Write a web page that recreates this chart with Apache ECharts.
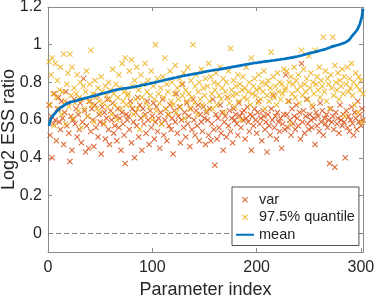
<!DOCTYPE html>
<html>
<head>
<meta charset="utf-8">
<script src="https://cdn.jsdelivr.net/npm/echarts@6/dist/echarts.min.js"></script>
<style>
html,body{margin:0;padding:0;background:#fff;}
#chart{width:374px;height:295px;}
</style>
</head>
<body>
<div id="chart"></div>
<script>
// ---- data ----
var seriesNames = ['var', '97.5% quantile', 'mean'];
var xTicks = [0, 100, 200, 300];
var yTicks = [0, 0.2, 0.4, 0.6, 0.8, 1, 1.2];

var varValues = [
0.68,0.52,0.62,0.40,0.58,0.74,0.60,0.49,0.66,0.72,
0.59,0.55,0.70,0.61,0.47,0.64,0.75,0.57,0.69,0.53,
0.38,0.62,0.44,0.60,0.71,0.58,0.66,0.51,0.63,0.55,
0.69,0.48,0.59,0.82,0.65,0.43,0.57,0.62,0.45,0.70,
0.54,0.66,0.60,0.46,0.68,0.56,0.73,0.51,0.63,0.59,
0.42,0.67,0.58,0.64,0.50,0.61,0.71,0.55,0.47,0.65,
0.60,0.69,0.53,0.57,0.62,0.49,0.66,0.56,0.61,0.44,
0.64,0.58,0.52,0.37,0.63,0.60,
0.62,0.55,0.70,0.48,0.66,0.59,0.40,0.64,0.57,0.72,
0.51,0.68,0.61,0.44,0.66,0.58,0.63,0.53,0.70,0.60,
0.47,0.65,0.56,0.62,0.69,0.50,0.59,0.67,0.54,0.61,
0.45,0.64,0.58,0.71,0.52,0.60,0.66,0.49,0.63,0.57,
0.68,0.55,0.61,0.42,0.65,0.59,0.74,0.53,0.62,0.67,
0.48,0.60,0.79,0.56,0.64,0.51,0.69,0.58,0.62,0.46,
0.66,0.55,0.71,0.60,0.52,0.65,0.57,0.68,0.49,0.63,
0.59,0.54,0.67,0.61,0.47,0.64,
0.60,0.52,0.66,0.49,0.58,0.71,0.55,0.36,0.63,0.50,
0.61,0.56,0.68,0.53,0.64,0.44,0.59,0.62,0.51,0.72,
0.57,0.65,0.54,0.61,0.48,0.66,0.60,0.63,0.58,0.52,
0.69,0.62,0.56,0.64,0.60,0.65,0.50,0.61,0.67,0.59,
0.54,0.63,0.44,0.62,0.57,0.66,0.60,0.53,0.64,0.70,
0.58,0.61,0.49,0.65,0.62,0.55,0.59,0.43,0.63,0.57,
0.52,0.66,0.60,0.73,0.56,0.62,0.50,0.64,0.59,0.54,
0.61,0.45,0.58,0.63,0.55,
0.84,0.63,0.56,0.70,0.60,0.52,0.66,0.58,0.62,0.55,
0.68,0.61,0.57,0.64,0.50,0.90,0.59,0.65,0.53,0.62,
0.71,0.58,0.55,0.63,0.60,0.56,0.67,0.61,0.47,0.64,
0.57,0.62,0.54,0.69,0.59,0.65,0.52,0.61,0.58,0.63,
0.56,0.60,0.37,0.66,0.59,0.62,0.55,0.35,0.64,0.58,
0.61,0.53,0.68,0.60,0.57,0.63,0.59,0.40,0.65,0.56,
0.62,0.54,0.60,0.67,0.58,0.52,0.64,0.61,0.55,0.70,
0.59,0.63,0.57,0.66,0.60
];

var quantileValues = [
0.91,0.68,0.84,0.93,0.74,0.57,0.90,0.72,0.81,0.66,
0.76,0.88,0.63,0.75,0.95,0.70,0.58,0.79,0.85,0.67,
0.95,0.73,0.88,0.61,0.77,0.69,0.74,0.84,0.65,0.72,
0.80,0.56,0.71,0.78,0.66,0.75,0.86,0.62,0.70,0.79,
0.97,0.68,0.74,0.59,0.81,0.72,0.66,0.77,0.70,0.64,
0.83,0.75,0.69,0.58,0.78,0.73,0.67,0.80,0.71,0.76,
0.63,0.87,0.74,0.68,0.79,0.60,0.72,0.84,0.77,0.66,
0.90,0.70,0.75,0.93,0.68,0.73,
0.74,0.86,0.68,0.92,0.78,0.63,0.81,0.71,0.88,0.66,
0.76,0.55,0.84,0.72,0.79,0.62,0.90,0.69,0.75,0.81,
0.67,0.73,0.86,0.60,0.78,0.71,1.00,0.65,0.82,0.74,
0.69,0.77,0.58,0.83,0.72,0.93,0.66,0.79,0.75,0.63,
0.86,0.70,0.80,0.68,0.74,0.89,0.64,0.77,0.71,0.82,
0.67,0.79,0.73,0.85,0.61,0.76,0.70,0.88,0.74,0.66,
0.81,0.72,1.00,0.69,0.78,0.84,0.63,0.75,0.80,0.71,
0.87,0.68,0.77,0.73,0.82,0.65,
0.78,0.90,0.70,0.83,0.74,0.66,0.80,0.76,0.85,0.68,
0.79,0.73,0.88,0.71,0.77,0.82,0.64,0.75,0.80,0.72,
0.86,0.69,0.98,0.76,0.73,0.81,0.67,0.78,0.74,0.84,
0.70,0.79,0.60,0.76,0.83,0.72,0.77,0.88,0.71,0.75,
0.80,0.68,0.93,0.74,0.78,0.82,0.73,0.76,0.69,0.84,
0.77,0.71,0.80,0.75,0.86,0.66,0.79,0.73,0.81,0.70,
0.77,0.96,0.74,0.83,0.72,0.78,0.68,0.85,0.75,0.80,
0.71,0.79,0.74,0.87,0.76,
0.77,0.86,0.70,0.80,0.58,0.83,0.74,0.79,0.88,0.72,
0.81,0.76,0.84,0.69,0.78,0.97,0.73,0.87,0.79,0.75,
0.82,0.71,0.94,0.77,0.85,0.68,0.80,0.74,0.97,0.79,
0.83,0.76,0.88,0.72,0.81,0.78,1.04,0.75,0.86,0.70,
0.82,0.79,0.66,0.84,0.77,1.04,0.73,0.89,0.80,0.76,
0.85,0.71,0.81,0.78,0.87,0.74,0.83,0.62,0.79,0.88,
0.75,0.82,0.77,0.90,0.73,0.80,0.68,0.85,0.78,0.64,
0.83,0.76,0.81,0.59,0.74
];

var meanValues = [
0.570,0.595,0.610,0.618,0.625,0.632,0.638,0.645,0.650,0.655,
0.660,0.665,0.669,0.673,0.677,0.680,0.684,0.688,0.690,0.692,
0.694,0.696,0.697,0.699,0.700,0.702,0.703,0.705,0.707,0.709,
0.710,0.711,0.713,0.714,0.715,0.717,0.718,0.719,0.721,0.722,
0.724,0.725,0.727,0.728,0.729,0.731,0.733,0.734,0.736,0.737,
0.739,0.740,0.742,0.743,0.745,0.746,0.748,0.749,0.751,0.752,
0.754,0.756,0.758,0.759,0.760,0.761,0.762,0.763,0.764,0.765,
0.766,0.767,0.768,0.769,0.769,0.770,0.771,0.772,0.773,0.774,
0.775,0.776,0.777,0.778,0.779,0.780,0.781,0.782,0.784,0.785,
0.786,0.787,0.788,0.790,0.791,0.792,0.793,0.794,0.796,0.797,
0.798,0.799,0.800,0.802,0.803,0.804,0.806,0.807,0.808,0.810,
0.811,0.813,0.814,0.815,0.816,0.818,0.819,0.820,0.821,0.823,
0.824,0.825,0.826,0.828,0.829,0.830,0.831,0.832,0.834,0.835,
0.836,0.837,0.838,0.839,0.840,0.841,0.842,0.843,0.844,0.845,
0.846,0.847,0.848,0.849,0.850,0.851,0.852,0.853,0.855,0.856,
0.857,0.858,0.859,0.860,0.861,0.862,0.863,0.864,0.865,0.866,
0.867,0.867,0.868,0.869,0.870,0.871,0.872,0.873,0.874,0.875,
0.876,0.877,0.878,0.879,0.880,0.881,0.882,0.883,0.884,0.885,
0.886,0.887,0.888,0.889,0.890,0.891,0.892,0.893,0.894,0.895,
0.896,0.897,0.898,0.899,0.900,0.901,0.902,0.903,0.904,0.904,
0.905,0.906,0.907,0.908,0.908,0.909,0.910,0.911,0.911,0.912,
0.913,0.914,0.914,0.915,0.916,0.917,0.917,0.918,0.919,0.920,
0.920,0.921,0.922,0.923,0.924,0.924,0.925,0.926,0.927,0.928,
0.929,0.930,0.931,0.932,0.933,0.934,0.935,0.936,0.937,0.938,
0.940,0.941,0.943,0.944,0.946,0.947,0.949,0.950,0.952,0.953,
0.955,0.956,0.958,0.959,0.960,0.962,0.963,0.965,0.966,0.968,
0.969,0.971,0.972,0.974,0.975,0.977,0.978,0.980,0.982,0.985,
0.987,0.989,0.991,0.992,0.994,0.996,0.997,0.998,1.000,1.002,
1.004,1.005,1.008,1.010,1.012,1.015,1.018,1.020,1.027,1.035,
1.042,1.050,1.056,1.062,1.068,1.075,1.085,1.097,1.110,1.130,
1.150,1.190
];

// ---- chart ----
function pairs(arr) {
  var out = [];
  for (var i = 0; i < arr.length; i++) out.push([i + 1, arr[i]]);
  return out;
}

var X_PATH = 'path://M0,1.2L1.2,0L5,3.8L8.8,0L10,1.2L6.2,5L10,8.8L8.8,10L5,6.2L1.2,10L0,8.8L3.8,5Z';
var textColor = '#262626';
var boxColor = '#8a8a8a';
var fontFam = '"Liberation Sans", Arial, Helvetica, sans-serif';

var chart = echarts.init(document.getElementById('chart'), null, {renderer: 'canvas'});
var nPts = meanValues.length;

var tickStyle = {show: true, inside: true, length: 4, lineStyle: {color: boxColor, width: 1}};

chart.setOption({
  animation: false,
  backgroundColor: '#ffffff',
  textStyle: {fontFamily: fontFam},
  grid: {left: 48, right: 11, top: 7, bottom: 43, containLabel: false, outerBoundsMode: 'none'},
  legend: {
    orient: 'vertical',
    left: 232,
    top: 187,
    z: 50,
    padding: [4, 4, 2, 3],
    itemWidth: 18,
    itemHeight: 6,
    itemGap: 0,
    itemTextGap: 4,
    backgroundColor: '#ffffff',
    borderColor: '#262626',
    borderWidth: 0.8,
    borderRadius: 0,
    textStyle: {fontSize: 14.5, color: textColor, fontFamily: fontFam, lineHeight: 17.5},
    data: [
      {name: seriesNames[0], icon: X_PATH},
      {name: seriesNames[1], icon: X_PATH},
      {name: seriesNames[2], itemStyle: {color: 'rgba(0,0,0,0)', borderWidth: 0}}
    ]
  },
  xAxis: [{
    type: 'value',
    min: 0,
    max: nPts,
    interval: 100,
    name: 'Parameter index',
    nameLocation: 'middle',
    nameGap: 29,
    nameMoveOverlap: false,
    nameTextStyle: {fontSize: 18, color: textColor, fontFamily: fontFam},
    axisLine: {show: true, onZero: false, lineStyle: {color: boxColor, width: 1}},
    axisTick: tickStyle,
    axisLabel: {fontSize: 16, color: textColor, margin: 8, fontFamily: fontFam,
      customValues: xTicks},
    splitLine: {show: false}
  }, {
    type: 'value',
    position: 'top',
    min: 0,
    max: nPts,
    interval: 100,
    axisLine: {show: true, onZero: false, lineStyle: {color: boxColor, width: 1}},
    axisTick: tickStyle,
    axisLabel: {show: false},
    splitLine: {show: false}
  }],
  yAxis: [{
    type: 'value',
    min: -0.1,
    max: 1.2,
    name: 'Log2 ESS ratio',
    nameLocation: 'middle',
    nameGap: 30,
    nameMoveOverlap: false,
    nameTextStyle: {fontSize: 18, color: textColor, fontFamily: fontFam},
    axisLine: {show: true, onZero: false, lineStyle: {color: boxColor, width: 1}},
    axisTick: {show: true, inside: true, length: 4, lineStyle: {color: boxColor, width: 1}, customValues: yTicks},
    axisLabel: {fontSize: 16, color: textColor, margin: 6, fontFamily: fontFam, customValues: yTicks,
      formatter: function (v) { return String(Math.round(v * 10) / 10); }},
    splitLine: {show: false}
  }, {
    type: 'value',
    position: 'right',
    min: -0.1,
    max: 1.2,
    axisLine: {show: true, onZero: false, lineStyle: {color: boxColor, width: 1}},
    axisTick: {show: true, inside: true, length: 4, lineStyle: {color: boxColor, width: 1}, customValues: yTicks},
    axisLabel: {show: false},
    splitLine: {show: false}
  }],
  series: [
    {
      name: seriesNames[0],
      type: 'scatter',
      symbol: X_PATH,
      symbolSize: 6,
      itemStyle: {color: '#D95319', opacity: 0.9},
      data: pairs(varValues),
      z: 2,
      markLine: {
        silent: true,
        symbol: ['none', 'none'],
        label: {show: false},
        lineStyle: {color: '#808080', width: 1, type: [5, 3]},
        data: [{yAxis: 0}],
        animation: false
      }
    },
    {
      name: seriesNames[1],
      type: 'scatter',
      symbol: X_PATH,
      symbolSize: 6,
      itemStyle: {color: '#EDB120', opacity: 0.9},
      data: pairs(quantileValues),
      z: 3
    },
    {
      name: seriesNames[2],
      type: 'line',
      showSymbol: false,
      symbol: 'none',
      lineStyle: {color: '#0072BD', width: 2.7},
      itemStyle: {color: '#0072BD'},
      data: pairs(meanValues),
      z: 4
    }
  ]
});
</script>
</body>
</html>
